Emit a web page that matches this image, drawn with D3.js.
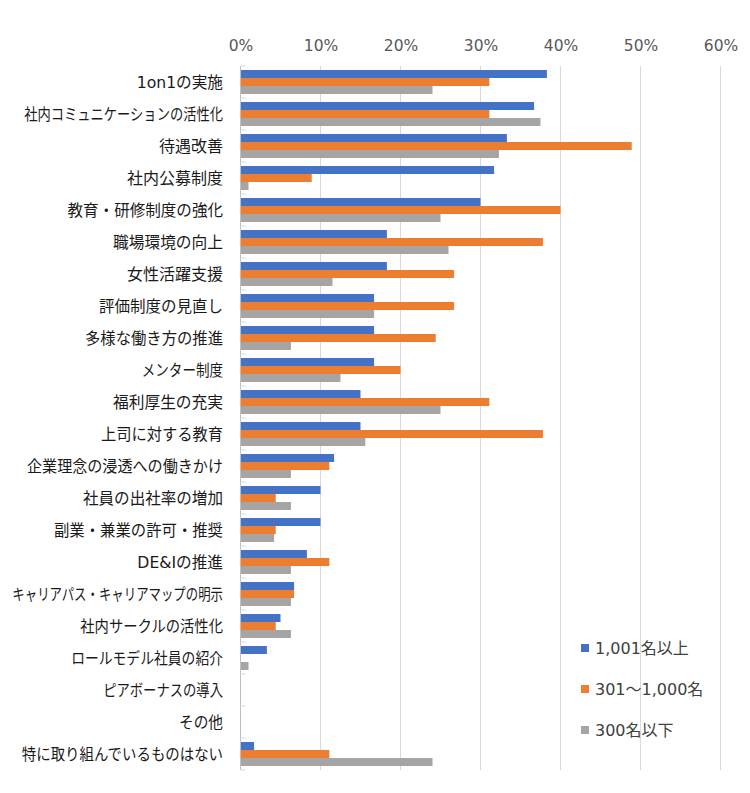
<!DOCTYPE html>
<html><head><meta charset="utf-8">
<script src="https://cdn.jsdelivr.net/npm/d3@7"></script>
<style>
body{margin:0;background:#fff;}
text{font-family:"DejaVu Sans","Noto Sans CJK JP",sans-serif;}
</style></head>
<body><svg id="chart" width="750" height="793"></svg>
<script>
const categories = ["1on1の実施","社内コミュニケーションの活性化","待遇改善","社内公募制度","教育・研修制度の強化","職場環境の向上","女性活躍支援","評価制度の見直し","多様な働き方の推進","メンター制度","福利厚生の充実","上司に対する教育","企業理念の浸透への働きかけ","社員の出社率の増加","副業・兼業の許可・推奨","DE&Iの推進","キャリアパス・キャリアマップの明示","社内サークルの活性化","ロールモデル社員の紹介","ピアボーナスの導入","その他","特に取り組んでいるものはない"];
const seriesNames = ["1,001名以上","301～1,000名","300名以下"];
const large = [38.3,36.7,33.3,31.7,30.0,18.3,18.3,16.7,16.7,16.7,15.0,15.0,11.7,10.0,10.0,8.3,6.7,5.0,3.3,0,0,1.7];
const medium = [31.1,31.1,48.9,8.9,40.0,37.8,26.7,26.7,24.4,20.0,31.1,37.8,11.1,4.4,4.4,11.1,6.7,4.4,0,0,0,11.1];
const small = [24.0,37.5,32.3,1.0,25.0,26.0,11.5,16.7,6.3,12.5,25.0,15.6,6.3,6.3,4.2,6.3,6.3,6.3,1.0,0,0,24.0];
const tickValues = [0,10,20,30,40,50,60];
const colors = ["#4472C4","#ED7D31","#A5A5A5"];

(function(){
const svg = d3.select("#chart");
const pLeft = 240.5, pRight = 720.5, pTop = 66, pBottom = 770;
const x = d3.scaleLinear().domain([0,60]).range([pLeft,pRight]);
const y = d3.scaleBand().domain(categories).range([pTop,pBottom]).paddingInner(0.25).paddingOuter(0.125);
const ySub = d3.scaleBand().domain([0,1,2]).range([0,y.bandwidth()]);

// gridlines
svg.append("g").selectAll("line").data(tickValues.slice(1)).join("line")
  .attr("x1",d=>x(d)).attr("x2",d=>x(d)).attr("y1",pTop).attr("y2",pBottom)
  .attr("stroke","#d9d9d9").attr("stroke-width",1);

// top axis labels
const xAxis = d3.axisTop(x).tickValues(tickValues).tickFormat(d=>d+"%").tickSize(0).tickPadding(0);
const gx = svg.append("g").attr("transform",`translate(0,${pTop})`).call(xAxis);
gx.select(".domain").remove();
gx.selectAll("text").attr("y",-15).attr("font-size",15.5).attr("fill","#595959")
  .style("font-family","'DejaVu Sans',sans-serif");

// bars
const data = [large,medium,small];
const groups = svg.append("g").selectAll("g").data(categories).join("g")
  .attr("transform",c=>`translate(0,${y(c)})`);
groups.selectAll("rect").data((c,i)=>data.map((s,k)=>({k, v:s[i]}))).join("rect")
  .attr("x",x(0)).attr("y",d=>ySub(d.k)).attr("height",ySub.bandwidth())
  .attr("width",d=>x(d.v)-x(0)).attr("fill",d=>colors[d.k]);

// left axis
const step = y.step();
svg.append("line").attr("x1",pLeft).attr("x2",pLeft).attr("y1",pTop).attr("y2",pBottom)
  .attr("stroke","#bfbfbf");
const bounds = d3.range(categories.length+1).map(i=>pTop+i*step);
svg.append("g").selectAll("line").data(bounds).join("line")
  .attr("x1",pLeft).attr("x2",pLeft+5).attr("y1",d=>d).attr("y2",d=>d)
  .attr("stroke","#d9d9d9");

// category labels (kana narrowed to mimic a proportional Japanese UI font)
function reduction(ch){
  if (/[ぁぃぅぇぉっゃゅょ]/.test(ch)) return 6;
  if (/[\u3040-\u309f]/.test(ch)) return 2;
  if (/[ァィゥェォッャュョ]/.test(ch)) return 6.5;
  if (/[\u30a1-\u30fa\u30fc]/.test(ch)) return 3.7;
  if (ch === "・") return 2.5;
  return 0;
}
svg.append("g").selectAll("text").data(categories).join("text")
  .attr("x",223).attr("y",c=>y(c)+y.bandwidth()/2).attr("dy","0.36em")
  .attr("text-anchor","end").attr("font-size",16).attr("fill","#1a1a1a").text(c=>c)
  .each(function(c){
    const w = this.getComputedTextLength();
    const red = Array.from(c).reduce((s,ch)=>s+reduction(ch),0);
    if (red > 0) d3.select(this).attr("textLength",w-red).attr("lengthAdjust","spacingAndGlyphs");
  });

// legend
const leg = svg.append("g").selectAll("g").data(seriesNames).join("g")
  .attr("transform",(d,i)=>`translate(581,${648+i*41})`);
leg.append("rect").attr("x",0).attr("y",-4).attr("width",8).attr("height",8).attr("fill",(d,i)=>colors[i]);
leg.append("text").attr("x",14).attr("dy","0.36em").attr("font-size",16).attr("fill","#404040").text(d=>d);
})();
</script></body></html>
